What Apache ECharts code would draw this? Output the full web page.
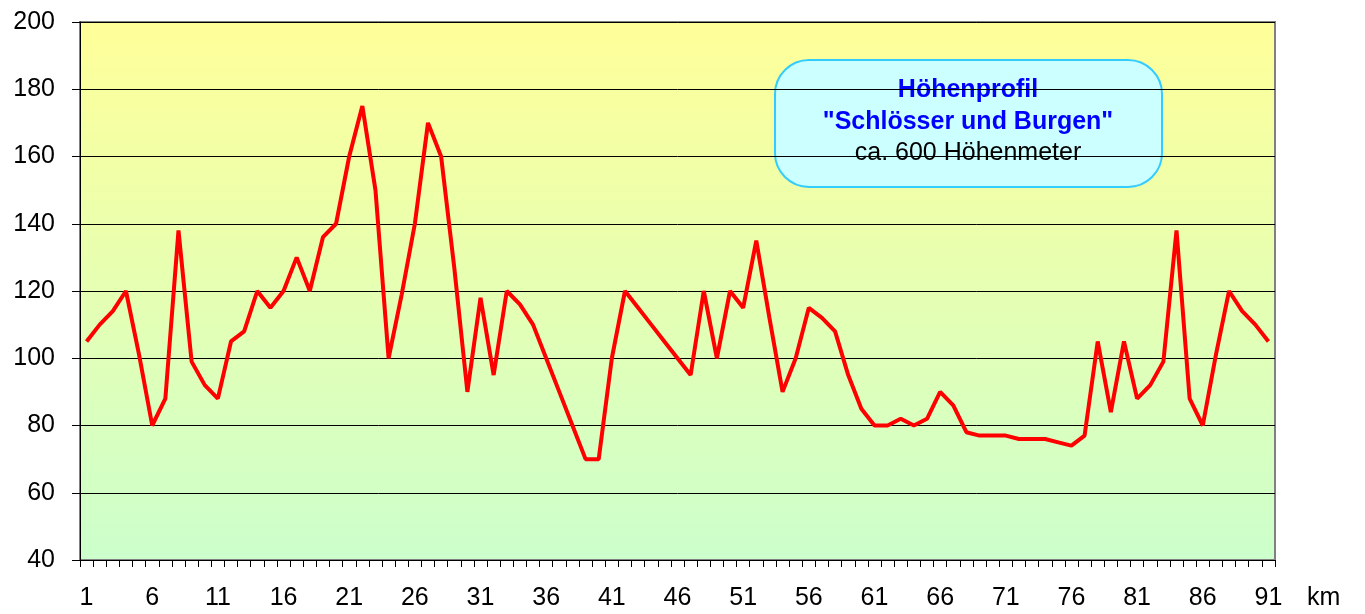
<!DOCTYPE html>
<html lang="de">
<head>
  <meta charset="UTF-8">
  <title>Höhenprofil</title>
  <style>
    html, body { margin: 0; padding: 0; background: #fff; }
    #main { width: 1365px; height: 614px; }
  </style>
</head>
<body>
  <div id="main"></div>
  <script src="https://cdn.jsdelivr.net/npm/echarts@6/dist/echarts.min.js"></script>
  <script>
    // km 1..91
    const km = []
    for (let i = 1; i <= 91; i++) km.push(String(i))

    // Höhe in m
    const hoehe = [
      105, 110, 114, 120, 101, 80, 88, 138, 99, 92,
      88, 105, 108, 120, 115, 120, 130, 120, 136, 140,
      160, 175, 150, 100, 119, 140, 170, 160, 127, 90,
      118, 95, 120, 116, 110, 100, 90, 80, 70, 70,
      100, 120, 115, 110, 105, 100, 95, 120, 100, 120,
      115, 135, 112, 90, 100, 115, 112, 108, 95, 85,
      80, 80, 82, 80, 82, 90, 86, 78, 77, 77,
      77, 76, 76, 76, 75, 74, 77, 105, 84, 105,
      88, 92, 99, 138, 88, 80, 101, 120, 114, 110,
      105
    ]

    const titelZeilen = ['Höhenprofil', '"Schlösser und Burgen"', 'ca. 600 Höhenmeter']

    const fontFam = '"Liberation Sans", Arial, sans-serif'

    const myChart = echarts.init(document.getElementById('main'))
    const option = {
      animation: false,
      grid: {
        left: 80, right: 90, top: 22, bottom: 54,
        show: true,
        borderColor: '#808080',
        borderWidth: 2,
        backgroundColor: new echarts.graphic.LinearGradient(0, 0, 0, 1, [
          { offset: 0, color: '#FFFF99' },
          { offset: 1, color: '#CCFFCC' }
        ])
      },
      xAxis: {
        type: 'category',
        data: km,
        boundaryGap: true,
        name: 'km',
        nameLocation: 'end',
        nameGap: 32,
        nameTextStyle: {
          color: '#000', fontSize: 25, fontFamily: fontFam,
          verticalAlign: 'top', align: 'left', padding: [26, 0, 0, 0]
        },
        axisLine: { lineStyle: { color: '#000', width: 1 } },
        axisTick: { show: true, interval: 0, length: 7, lineStyle: { color: '#000' } },
        axisLabel: { interval: 4, color: '#000', fontSize: 25, fontFamily: fontFam, margin: 26 },
        splitLine: { show: false }
      },
      yAxis: {
        type: 'value',
        min: 40, max: 200, interval: 20,
        axisLine: { show: true, lineStyle: { color: '#000', width: 1 } },
        axisTick: { show: true, length: 8, lineStyle: { color: '#000' } },
        axisLabel: { color: '#000', fontSize: 25, fontFamily: fontFam, margin: 25 },
        splitLine: { show: true, lineStyle: { color: '#000', width: 1 } }
      },
      series: [{
        type: 'line',
        data: hoehe,
        symbol: 'none',
        lineStyle: { color: '#FF0000', width: 4 },
        z: 5
      }],
      graphic: [{
        type: 'group',
        z: 100,
        children: [
          {
            type: 'rect',
            shape: { x: 775, y: 60, width: 387, height: 127, r: 34 },
            style: { fill: '#CCFFFF', stroke: '#33CCFF', lineWidth: 2 }
          },
          {
            type: 'text',
            style: { x: 968, y: 90, text: titelZeilen[0], align: 'center', verticalAlign: 'middle',
              fill: '#0000FF', font: 'bold 25px ' + fontFam }
          },
          {
            type: 'text',
            style: { x: 968, y: 122, text: titelZeilen[1], align: 'center', verticalAlign: 'middle',
              fill: '#0000FF', font: 'bold 25px ' + fontFam }
          },
          {
            type: 'text',
            style: { x: 968, y: 153, text: titelZeilen[2], align: 'center', verticalAlign: 'middle',
              fill: '#000', font: '25px ' + fontFam }
          }
        ]
      }]
    }
    myChart.setOption(option)
  </script>
</body>
</html>
